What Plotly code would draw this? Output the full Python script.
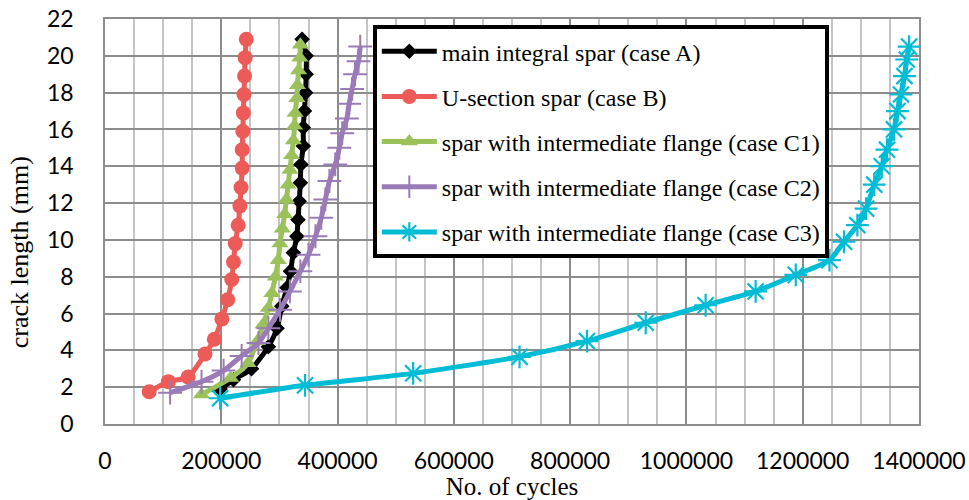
import plotly.graph_objects as go

# ---- data ----
names = [
    "main integral spar (case A)",
    "U-section spar (case B)",
    "spar with intermediate flange (case C1)",
    "spar with intermediate flange (case C2)",
    "spar with intermediate flange (case C3)",
]

a_cycles = [198000, 221000, 252000, 281000, 296000, 304000, 313000, 319000, 324000, 330000, 332000,
            334000, 336000, 337000, 341000, 341000, 343000, 345000, 346000, 346000, 339000]
a_crack = [1.9, 2.4, 3.0, 4.2, 5.2, 6.4, 7.4, 8.3, 9.3, 10.2, 11.1,
           12.1, 13.1, 14.1, 15.1, 16.1, 17.0, 18.0, 19.0, 20.0, 20.9]

b_cycles = [76000, 109000, 143000, 172000, 188000, 201000, 211000, 218000, 221000, 224000, 229000,
            232000, 234000, 236000, 236000, 237000, 238000, 239000, 240000, 241000, 243000]
b_crack = [1.75, 2.3, 2.55, 3.8, 4.6, 5.7, 6.75, 7.85, 8.8, 9.8, 10.8,
           11.85, 12.85, 13.9, 14.9, 15.9, 16.9, 17.9, 18.9, 19.9, 20.9]

c1_cycles = [166000, 216000, 246000, 262000, 272000, 281000, 287000, 293000, 298000, 301000, 305000,
             309000, 312000, 315000, 318000, 321000, 324000, 326000, 327000, 330000, 331000, 333000,
             335000, 336000]
c1_crack = [1.6, 2.5, 3.3, 4.5, 5.4, 6.3, 7.1, 8.0, 8.9, 9.8, 10.6,
            11.4, 12.2, 13.0, 13.8, 14.6, 15.4, 16.2, 16.9, 17.7, 18.4, 19.2,
            19.9, 20.6]

c2_cycles = [112000, 166000, 204000, 235000, 264000, 281000, 301000, 318000, 336000, 350000, 362000,
             372000, 379000, 386000, 396000, 403000, 408000, 416000, 420000, 425000, 430000, 436000,
             439000]
c2_crack = [1.7, 2.3, 2.9, 3.7, 4.4, 5.2, 6.2, 7.2, 8.3, 9.2, 10.2,
            11.2, 12.2, 13.2, 14.1, 15.0, 15.8, 16.6, 17.4, 18.2, 19.0, 19.7,
            20.5]

c3_cycles = [198000, 344000, 530000, 713000, 829000, 930000, 1033000, 1119000, 1188000, 1246000,
             1271000, 1294000, 1309000, 1323000, 1336000, 1345000, 1357000, 1363000, 1369000,
             1375000, 1379000, 1383000]
c3_crack = [1.4, 2.1, 2.75, 3.65, 4.5, 5.5, 6.45, 7.2, 8.1, 8.9,
            9.9, 10.8, 11.7, 13.0, 14.0, 14.9, 16.0, 17.0, 17.9,
            18.9, 19.8, 20.5]

x_ticks = [0, 200000, 400000, 600000, 800000, 1000000, 1200000, 1400000]
y_ticks = list(range(0, 23, 2))
x_title = "No. of cycles"
y_title = "crack length (mm)"

series = [
    (a_cycles, a_crack, "#000000", dict(symbol="diamond", size=12)),
    (b_cycles, b_crack, "#EC5B57", dict(symbol="circle", size=15)),
    (c1_cycles, c1_crack, "#9BC25A", dict(symbol="triangle-up", size=15)),
    (c2_cycles, c2_crack, "#9A7BB8", dict(symbol="cross-thin-open", size=17, line=dict(width=2, color="#9A7BB8"))),
    (c3_cycles, c3_crack, "#00BCD4", dict(symbol="asterisk-open", size=19, line=dict(width=2.2, color="#00BCD4"))),
]

fig = go.Figure()
for i, (xs, ys, col, mk) in enumerate(series):
    mk = dict(mk)
    mk["color"] = col
    fig.add_trace(go.Scatter(
        x=xs, y=ys, name=names[i], mode="lines+markers",
        line=dict(color=col, width=5, shape="spline", smoothing=0.6),
        marker=mk, legendgroup=f"g{i}",
    ))

serif = "Liberation Serif"
sans = "Lato"

fig.update_layout(
    width=969, height=500,
    margin=dict(l=105, r=50, t=19, b=76),
    paper_bgcolor="white", plot_bgcolor="white",
    showlegend=True,
    legend=dict(
        x=0.329, y=0.985, xanchor="left", yanchor="top",
        bgcolor="white", bordercolor="black", borderwidth=4,
        font=dict(family=serif, size=24, color="black"),
        tracegroupgap=11, itemwidth=55,
    ),
    xaxis=dict(
        range=[0, 1400000], tickvals=x_ticks, ticktext=[str(v) for v in x_ticks],
        showgrid=True, gridcolor="#8c8c8c", gridwidth=1.5,
        minor=dict(dtick=50000, showgrid=True, gridcolor="#c4c4c4", gridwidth=1.5),
        showline=True, linecolor="#8c8c8c", linewidth=1.5, mirror=True,
        zeroline=False, ticks="", automargin=False,
        tickfont=dict(family=sans, size=23, color="black"),
        ticklabelstandoff=16,
        title=dict(text=x_title, font=dict(family=serif, size=25, color="black"), standoff=4),
    ),
    yaxis=dict(
        range=[0, 22], tickvals=y_ticks,
        showgrid=True, gridcolor="#8c8c8c", gridwidth=1.5,
        showline=True, linecolor="#8c8c8c", linewidth=1.5, mirror=True,
        zeroline=False, ticks="", automargin=False,
        tickfont=dict(family=sans, size=23, color="black"),
        ticklabelstandoff=25,
    ),
    annotations=[dict(
        text=y_title, textangle=-90, xref="paper", yref="paper",
        x=-0.104, y=0.425, xanchor="center", yanchor="middle", showarrow=False,
        font=dict(family=serif, size=26, color="black"),
    )],
)

# remove the browser's default 8px page margin so the figure fills the window exactly
fig.write_html("out.html", config={"displayModeBar": False},
               post_script="document.body.style.margin='0';")
